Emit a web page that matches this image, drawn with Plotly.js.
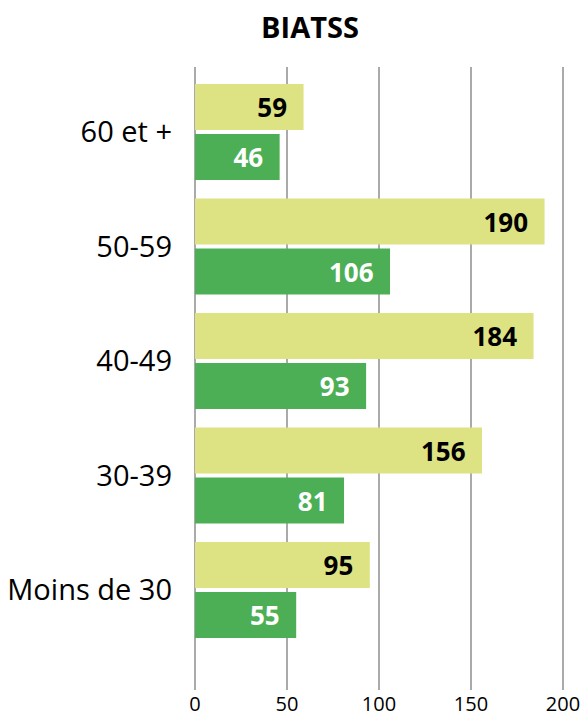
<!DOCTYPE html>
<html><head><meta charset="utf-8">
<script src="https://cdn.plot.ly/plotly-3.0.1.min.js"></script>
<style>html,body{margin:0;padding:0;background:#fff}#chart{width:581px;height:719px}</style>
</head><body><div id="chart"></div>
<script>
const categories = ['Moins de 30', '30-39', '40-49', '50-59', '60 et +'];
const seriesYellow = [95, 156, 184, 190, 59];
const seriesGreen = [55, 81, 93, 106, 46];
const xTicks = [0, 50, 100, 150, 200];
const titleText = 'BIATSS';

const FONT = '"Open Sans", "Noto Sans", sans-serif';
const pad = '\u00a0\u00a0';

const traces = [
  {
    type: 'bar', orientation: 'h', y: categories, x: seriesGreen,
    marker: {color: '#4caf55'},
    text: seriesGreen.map(v => v + pad), textposition: 'inside', insidetextanchor: 'end',
    textangle: 0, constraintext: 'none',
    insidetextfont: {family: FONT, size: 26, color: '#ffffff', weight: 'bold'},
    hoverinfo: 'none', cliponaxis: false
  },
  {
    type: 'bar', orientation: 'h', y: categories, x: seriesYellow,
    marker: {color: '#dde283'},
    text: seriesYellow.map(v => v + pad), textposition: 'inside', insidetextanchor: 'end',
    textangle: 0, constraintext: 'none',
    insidetextfont: {family: FONT, size: 26, color: '#000000', weight: 'bold'},
    hoverinfo: 'none', cliponaxis: false
  }
];

const layout = {
  width: 581, height: 719,
  margin: {l: 195, r: 0, t: 67, b: 29},
  paper_bgcolor: '#fff', plot_bgcolor: '#fff',
  showlegend: false,
  barmode: 'group', bargap: 0.127, bargroupgap: 0.08,
  font: {family: FONT, color: '#000'},
  title: {text: '<b>' + titleText + '</b>', font: {family: FONT, size: 29, color: '#000'},
          x: 310 / 581, xref: 'container', xanchor: 'center', y: 1 - 28 / 719, yref: 'container', yanchor: 'middle'},
  xaxis: {range: [0, 209.8], tickvals: xTicks, ticktext: xTicks.map(String),
          showgrid: true, gridcolor: '#aaaaaa', gridwidth: 1.5, zeroline: true, zerolinecolor: '#aaaaaa', zerolinewidth: 1.5,
          showline: false, ticks: '', tickfont: {family: FONT, size: 20, color: '#000'}, fixedrange: true},
  yaxis: {type: 'category', range: [-0.873, 4.568], showgrid: false, zeroline: false, showline: false, ticks: '',
          tickfont: {family: FONT, size: 29, color: '#000'}, ticklabelstandoff: 22, fixedrange: true}
};

Plotly.newPlot('chart', traces, layout, {staticPlot: true, displayModeBar: false});
</script></body></html>
